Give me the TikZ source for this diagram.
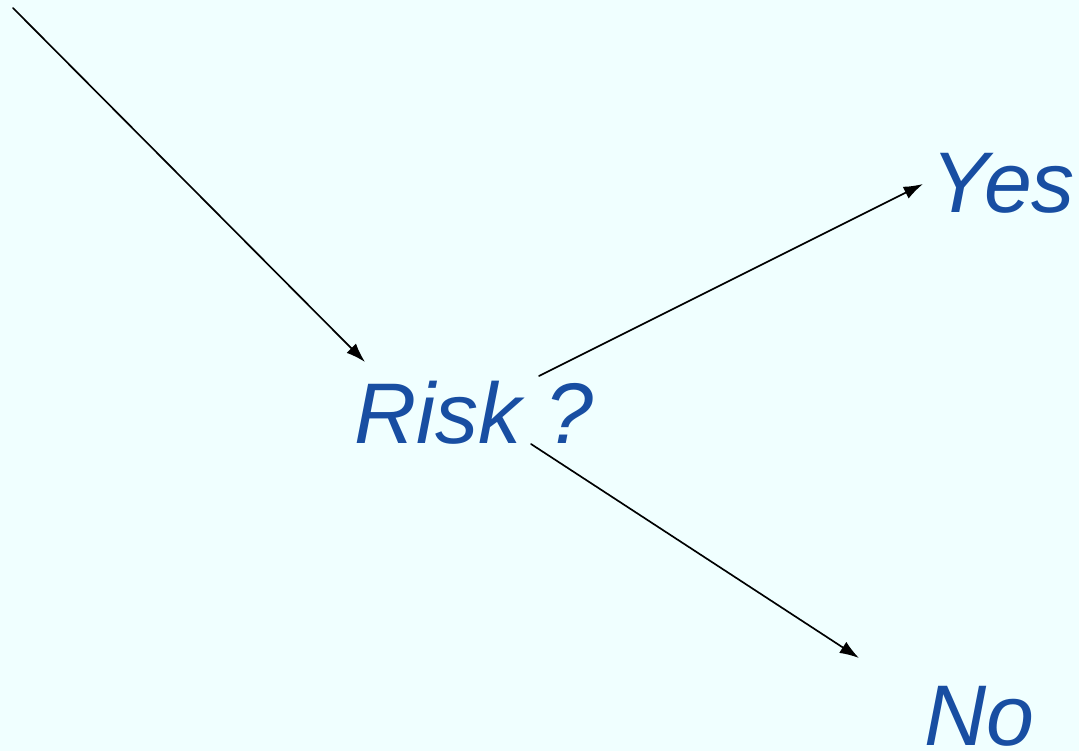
\documentclass[tikz,border=0pt]{standalone}
\usepackage{fontspec}
\setmainfont{Liberation Sans}
\usetikzlibrary{arrows.meta}
\definecolor{bgcyan}{HTML}{F0FFFF}
\definecolor{textblue}{RGB}{24,78,162}

\begin{document}
\begin{tikzpicture}[x=0.02cm,y=-0.02cm,line cap=round,line join=round,
  answer/.style={anchor=base west,inner sep=0pt,text=textblue,
    font=\fontsize{49}{59}\selectfont\itshape},
  flow/.style={line width=0.95pt,-{Latex[length=11pt,width=7.5pt]}}]
  \fill[bgcyan] (0,0) rectangle (1079,751);
  \useasboundingbox (0,0) rectangle (1079,751);
  % Frage und Antworten
  \node[answer] (risk) at (354,443) {Risk ?};
  \node[answer] (yes) at (931,212) {Yes};
  \node[answer] (no) at (924,745) {No};
  % Anfangs- und Endpunkte der Pfeile
  \coordinate (top) at (13,8);
  \coordinate (riskin) at (365,362);
  \coordinate (riskup) at (539,376);
  \coordinate (riskdown) at (531,444);
  \coordinate (yesin) at (923,184);
  \coordinate (noin) at (859,658);
  \draw[flow] (top) -- (riskin);
  \draw[flow] (riskup) -- (yesin);
  \draw[flow] (riskdown) -- (noin);
\end{tikzpicture}
\end{document}
